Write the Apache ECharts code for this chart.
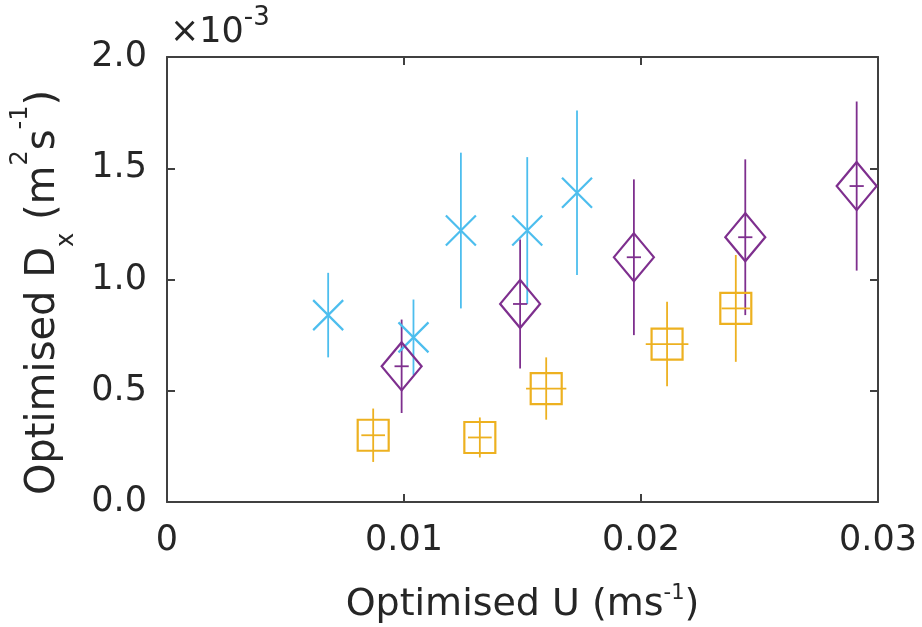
<!DOCTYPE html>
<html>
<head>
<meta charset="utf-8">
<script src="https://cdn.jsdelivr.net/npm/echarts@6/dist/echarts.min.js"></script>
<style>
  html, body { margin: 0; padding: 0; background: #fff; }
  #chart { width: 922px; height: 627px; }
</style>
</head>
<body>
<div id="chart"></div>
<script>
// Optimised advection velocity U (m/s) and dispersion Dx (in units of 1e-3 m^2/s)
const xTicks = [0, 0.01, 0.02, 0.03];
const yTicks = [0.0, 0.5, 1.0, 1.5, 2.0];

const cyanU    = [0.0068, 0.0104, 0.0124, 0.0152, 0.0173];
const cyanD    = [0.84, 0.74, 1.22, 1.22, 1.39];
const cyanDErr = [0.19, 0.17, 0.35, 0.33, 0.37];
const cyanUErr = [0, 0, 0, 0, 0];

const purpleU    = [0.0099, 0.0149, 0.0197, 0.0244, 0.0291];
const purpleD    = [0.61, 0.89, 1.10, 1.19, 1.42];
const purpleDErr = [0.21, 0.29, 0.35, 0.35, 0.38];
const purpleUErr = [0.0003, 0.0003, 0.0003, 0.0003, 0.0003];

const yellowU    = [0.0087, 0.0132, 0.0160, 0.0211, 0.0240];
const yellowD    = [0.30, 0.29, 0.51, 0.71, 0.87];
const yellowDErr = [0.12, 0.09, 0.14, 0.19, 0.24];
const yellowUErr = [0.0005, 0.0005, 0.00085, 0.0009, 0.0006];

const CYAN = '#4DBEEE', PURPLE = '#7E2F8E', YELLOW = '#EDB120';
const TEXT = '#262626', AXIS = '#404040';
const FONT = '"DejaVu Sans", sans-serif';
const TICK_FS = 35, TITLE_FS = 38;

function points(u, d, ue, de) {
  return u.map((v, i) => [v, d[i], ue[i], de[i]]);
}

// vertical + horizontal error bars without caps
function errorSeries(data, color, z) {
  return {
    type: 'custom',
    z: z,
    data: data,
    encode: { x: 0, y: 1 },
    silent: true,
    renderItem: function (params, api) {
      const x = api.value(0), y = api.value(1);
      const ue = api.value(2), de = api.value(3);
      const top = api.coord([x, y + de]);
      const bot = api.coord([x, y - de]);
      const lft = api.coord([x - ue, y]);
      const rgt = api.coord([x + ue, y]);
      const style = { stroke: color, lineWidth: 1.8 };
      const children = [
        { type: 'line', shape: { x1: top[0], y1: top[1], x2: bot[0], y2: bot[1] }, style: style }
      ];
      if (ue > 0) {
        children.push({ type: 'line', shape: { x1: lft[0], y1: lft[1], x2: rgt[0], y2: rgt[1] }, style: style });
      }
      return { type: 'group', children: children };
    }
  };
}

function markerSeries(data, symbol, size, color, z) {
  return {
    type: 'scatter',
    z: z,
    data: data.map(p => [p[0], p[1]]),
    symbol: symbol,
    symbolSize: size,
    silent: true,
    itemStyle: { color: 'none', borderColor: color, borderWidth: 2.2, opacity: 1 }
  };
}

const cyanPts = points(cyanU, cyanD, cyanUErr, cyanDErr);
const purplePts = points(purpleU, purpleD, purpleUErr, purpleDErr);
const yellowPts = points(yellowU, yellowD, yellowUErr, yellowDErr);

const chart = echarts.init(document.getElementById('chart'), null, { renderer: 'canvas' });

const axisCommon = {
  axisLine: { show: true, onZero: false, lineStyle: { color: AXIS, width: 2 } },
  axisTick: { show: true, inside: true, length: 8, lineStyle: { color: AXIS, width: 2 } },
  splitLine: { show: false }
};

chart.setOption({
  animation: false,
  backgroundColor: '#fff',
  textStyle: { fontFamily: FONT },
  grid: { left: 167, right: 44, top: 57, bottom: 125, containLabel: false, outerBoundsMode: 'none' },
  xAxis: [
    Object.assign({
      type: 'value', position: 'bottom',
      min: xTicks[0], max: xTicks[xTicks.length - 1], interval: 0.01,
      name: 'Optimised U (ms{sup|-1})',
      nameLocation: 'middle', nameGap: 81,
      nameTextStyle: {
        fontFamily: FONT, fontSize: TITLE_FS, color: TEXT, lineHeight: 44,
        rich: { sup: { fontFamily: FONT, fontSize: 21, color: TEXT, verticalAlign: 'top', lineHeight: 24 } }
      },
      axisLabel: {
        margin: 21, fontFamily: FONT, fontSize: TICK_FS, color: TEXT,
        formatter: v => (Math.abs(v) < 1e-9 ? '0' : v.toFixed(2))
      }
    }, axisCommon),
    Object.assign({
      type: 'value', position: 'top',
      min: xTicks[0], max: xTicks[xTicks.length - 1], interval: 0.01,
      axisLabel: { show: false }
    }, axisCommon)
  ],
  yAxis: [
    Object.assign({
      type: 'value', position: 'left',
      min: yTicks[0], max: yTicks[yTicks.length - 1], interval: 0.5,
      name: 'Optimised D{sub|x} (m{sup|2}s{sup|-1})',
      nameLocation: 'middle', nameGap: 88, nameRotate: 90,
      nameTextStyle: {
        fontFamily: FONT, fontSize: 40, color: TEXT, lineHeight: 70,
        padding: [0, 26, 0, 0],
        rich: {
          sup: { fontFamily: FONT, fontSize: 24, color: TEXT, verticalAlign: 'top', lineHeight: 26 },
          sub: { fontFamily: FONT, fontSize: 24, color: TEXT, verticalAlign: 'bottom', lineHeight: 30 }
        }
      },
      axisLabel: {
        margin: 20, fontFamily: FONT, fontSize: TICK_FS, color: TEXT,
        formatter: v => v.toFixed(1)
      }
    }, axisCommon),
    Object.assign({
      type: 'value', position: 'right',
      min: yTicks[0], max: yTicks[yTicks.length - 1], interval: 0.5,
      axisLabel: { show: false }
    }, axisCommon)
  ],
  graphic: [
    {
      type: 'text',
      left: 170, top: 5,
      style: {
        text: '×10{sup|-3}',
        fontFamily: FONT, fontSize: TICK_FS, fill: TEXT, lineHeight: 56,
        rich: { sup: { fontFamily: FONT, fontSize: 26, fill: TEXT, verticalAlign: 'top', lineHeight: 30 } }
      }
    }
  ],
  series: [
    errorSeries(cyanPts, CYAN, 2),
    markerSeries(cyanPts, 'path://M0,0L10,10M10,0L0,10', 30, CYAN, 3),
    errorSeries(purplePts, PURPLE, 2),
    markerSeries(purplePts, 'diamond', [40, 48], PURPLE, 3),
    errorSeries(yellowPts, YELLOW, 2),
    markerSeries(yellowPts, 'rect', 31, YELLOW, 3)
  ]
});
</script>
</body>
</html>
